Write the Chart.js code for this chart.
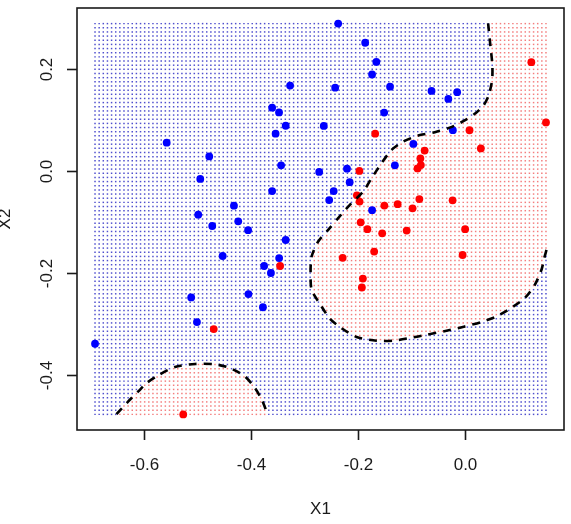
<!DOCTYPE html>
<html><head><meta charset="utf-8">
<script src="https://cdn.jsdelivr.net/npm/chart.js@4/dist/chart.umd.min.js"></script>
<style>html,body{margin:0;padding:0;background:#fff;}#wrap{width:571px;height:524px;}</style>
</head><body><div id="wrap"><canvas id="c" width="571" height="524"></canvas></div>
<script>
// ---- data ----
const blueX = [-0.5583,-0.4787,-0.4955,-0.4993,-0.4731,-0.4325,-0.4245,-0.4060,-0.4536,-0.5125,-0.5017,-0.6923,-0.4054,-0.3783,-0.3761,-0.3634,-0.3480,-0.3357,-0.3611,-0.3443,-0.3546,-0.3357,-0.3611,-0.3482,-0.3275,-0.2376,-0.1871,-0.1662,-0.1742,-0.2432,-0.1406,-0.1516,-0.2645,-0.2731,-0.2211,-0.2161,-0.2460,-0.2544,-0.1742,-0.1316,-0.0970,-0.0630,-0.0316,-0.0151,-0.0232];
const blueY = [0.0554,0.0286,-0.0155,-0.0855,-0.1078,-0.0679,-0.0986,-0.1159,-0.1665,-0.2477,-0.2959,-0.3384,-0.2411,-0.2669,-0.1861,-0.1998,-0.1706,-0.1352,-0.0393,0.0110,0.0730,0.0886,0.1239,0.1147,0.1673,0.2886,0.2511,0.2135,0.1890,0.1632,0.1652,0.1143,0.0883,-0.0018,0.0045,-0.0219,-0.0393,-0.0569,-0.0767,0.0110,0.0530,0.1568,0.1411,0.1544,0.0800];
const redX = [-0.1684,-0.1979,-0.2026,-0.1976,-0.1512,-0.1264,-0.0858,-0.0985,-0.0236,-0.1955,-0.1830,-0.1553,-0.1095,-0.0002,-0.1703,-0.2292,-0.0049,-0.1914,-0.1933,-0.3462,-0.4703,-0.5273,-0.0839,-0.0830,-0.0892,-0.0759,0.0292,0.0080,0.1236,0.1510];
const redY = [0.0730,0.0002,-0.0477,-0.0599,-0.0677,-0.0650,-0.0550,-0.0732,-0.0575,-0.1006,-0.1139,-0.1221,-0.1168,-0.1139,-0.1579,-0.1701,-0.1646,-0.2108,-0.2282,-0.1861,-0.3096,-0.4767,0.0245,0.0115,0.0051,0.0399,0.0442,0.0798,0.2131,0.0951];
// decision boundary (dashed contour), main branch
const boundMainX = [0.0428,0.0469,0.0507,0.0503,0.0441,0.0348,0.0198,0.0024,-0.0250,-0.0568,-0.0880,-0.1161,-0.1378,-0.1564,-0.1751,-0.1908,-0.2157,-0.2376,-0.2563,-0.2750,-0.2873,-0.2892,-0.2873,-0.2718,-0.2531,-0.2325,-0.2032,-0.1658,-0.1348,-0.1036,-0.0723,-0.0350,-0.0007,0.0292,0.0572,0.0834,0.1114,0.1301,0.1426,0.1479,0.1520];
const boundMainY = [0.2892,0.2468,0.2077,0.1783,0.1489,0.1294,0.1137,0.1010,0.0863,0.0759,0.0693,0.0575,0.0413,0.0153,-0.0141,-0.0403,-0.0663,-0.0924,-0.1153,-0.1382,-0.1675,-0.1975,-0.2327,-0.2601,-0.2894,-0.3071,-0.3252,-0.3325,-0.3325,-0.3272,-0.3207,-0.3129,-0.3045,-0.2963,-0.2855,-0.2699,-0.2489,-0.2229,-0.1935,-0.1700,-0.1544];
// decision boundary, lower-left branch
const boundLowX = [-0.6522,-0.6301,-0.6114,-0.5957,-0.5740,-0.5428,-0.5054,-0.4680,-0.4400,-0.4120,-0.3933,-0.3802,-0.3708];
const boundLowY = [-0.4763,-0.4513,-0.4317,-0.4153,-0.4000,-0.3840,-0.3779,-0.3785,-0.3859,-0.4023,-0.4250,-0.4483,-0.4734];
const xTicks = [-0.6,-0.4,-0.2,0.0];
const xTickLabels = ['-0.6','-0.4','-0.2','0.0'];
const yTicks = [0.2,0.0,-0.2,-0.4];
const yTickLabels = ['0.2','0.0','-0.2','-0.4'];
const xTitle = 'X1';
const yTitle = 'X2';
const xLimits = [-0.726, 0.1847];
const yLimits = [-0.5073, 0.3192];
const gridXRange = [-0.6923, 0.1510];
const gridYRange = [-0.4767, 0.2886];
const gridCols = 110;
const gridRows = 95;

// ---- build datasets ----
function pts(xs, ys){ return xs.map((x,i)=>({x:x, y:ys[i]})); }
function inPoly(px, py, poly){
  let inside = false;
  for (let i=0, j=poly.length-1; i<poly.length; j=i++){
    const xi=poly[i][0], yi=poly[i][1], xj=poly[j][0], yj=poly[j][1];
    if (((yi>py)!==(yj>py)) && (px < (xj-xi)*(py-yi)/(yj-yi)+xi)) inside = !inside;
  }
  return inside;
}
const polyMain = boundMainX.map((x,i)=>[x,boundMainY[i]]);
polyMain.push([0.5, boundMainY[boundMainY.length-1]],[0.5,0.6],[boundMainX[0],0.6]);
const polyLow = boundLowX.map((x,i)=>[x,boundLowY[i]]);
polyLow.push([boundLowX[boundLowX.length-1],-0.7],[boundLowX[0],-0.7]);

const gridBlue = [], gridRed = [];
for (let r=0; r<gridRows; r++){
  const gy = gridYRange[0] + (gridYRange[1]-gridYRange[0])*r/(gridRows-1);
  for (let c=0; c<gridCols; c++){
    const gx = gridXRange[0] + (gridXRange[1]-gridXRange[0])*c/(gridCols-1);
    if (inPoly(gx,gy,polyMain) || inPoly(gx,gy,polyLow)) gridRed.push({x:gx,y:gy});
    else gridBlue.push({x:gx,y:gy});
  }
}

const FONT = '"Liberation Sans", Arial, sans-serif';
const rAxes = {
  id: 'rAxes',
  beforeDraw(chart){
    const ctx = chart.ctx;
    ctx.save(); ctx.fillStyle = '#fff'; ctx.fillRect(0,0,chart.width,chart.height); ctx.restore();
  },
  afterDraw(chart){
    const ctx = chart.ctx, a = chart.chartArea, xs = chart.scales.x, ys = chart.scales.y;
    ctx.save();
    ctx.strokeStyle = '#1a1a1a'; ctx.lineWidth = 1.6;
    ctx.strokeRect(a.left, a.top, a.right-a.left, a.bottom-a.top);
    ctx.fillStyle = '#1a1a1a';
    ctx.font = '17px ' + FONT;
    ctx.textAlign = 'center'; ctx.textBaseline = 'alphabetic';
    xTicks.forEach((v,i)=>{
      const px = Math.round(xs.getPixelForValue(v))+0.5;
      ctx.beginPath(); ctx.moveTo(px, a.bottom); ctx.lineTo(px, a.bottom+10); ctx.stroke();
      ctx.fillText(xTickLabels[i], px, 469.5);
    });
    yTicks.forEach((v,i)=>{
      const py = Math.round(ys.getPixelForValue(v))+0.5;
      ctx.beginPath(); ctx.moveTo(a.left, py); ctx.lineTo(a.left-10, py); ctx.stroke();
      ctx.save(); ctx.translate(52, py); ctx.rotate(-Math.PI/2);
      ctx.fillText(yTickLabels[i], 0, 0); ctx.restore();
    });
    ctx.fillText(xTitle, (a.left+a.right)/2, 513.5);
    ctx.save(); ctx.translate(9.5, (a.top+a.bottom)/2); ctx.rotate(-Math.PI/2);
    ctx.fillText(yTitle, 0, 0); ctx.restore();
    ctx.restore();
  }
};

new Chart(document.getElementById('c'), {
  type: 'scatter',
  data: { datasets: [
    { label:'boundary', data: pts(boundMainX, boundMainY), showLine:true, borderColor:'#000', borderWidth:2.6, borderDash:[8,7], pointRadius:0, tension:0.25, fill:false, order:0 },
    { label:'boundary2', data: pts(boundLowX, boundLowY), showLine:true, borderColor:'#000', borderWidth:2.6, borderDash:[8,7], pointRadius:0, tension:0.25, fill:false, order:0 },
    { label:'class 1', data: pts(blueX, blueY), backgroundColor:'#0000ff', borderWidth:0, pointRadius:3.9, order:1 },
    { label:'class 2', data: pts(redX, redY), backgroundColor:'#ff0000', borderWidth:0, pointRadius:3.9, order:1 },
    { label:'grid 1', data: gridBlue, pointStyle:'rect', backgroundColor:'rgba(20,20,190,0.75)', borderWidth:0, pointRadius:1.05, order:2 },
    { label:'grid 2', data: gridRed, pointStyle:'rect', backgroundColor:'rgba(235,40,40,0.6)', borderWidth:0, pointRadius:1.05, order:2 }
  ]},
  options: {
    responsive:false, animation:false, events:[],
    layout:{ padding:{ left:77, top:8, right:7, bottom:94 } },
    plugins:{ legend:{display:false}, tooltip:{enabled:false} },
    scales:{
      x:{ type:'linear', min:xLimits[0], max:xLimits[1], display:false },
      y:{ type:'linear', min:yLimits[0], max:yLimits[1], display:false }
    }
  },
  plugins:[rAxes]
});
</script></body></html>
